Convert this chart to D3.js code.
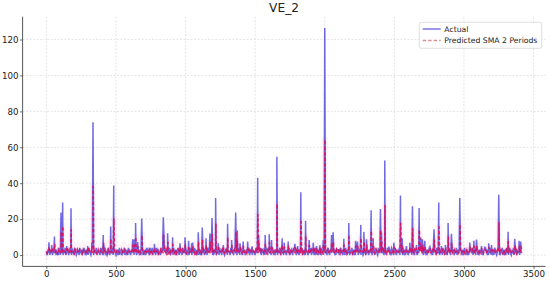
<!DOCTYPE html>
<html><head><meta charset="utf-8">
<script src="https://cdn.jsdelivr.net/npm/d3@7"></script>
<style>body{margin:0;background:#fff}svg{display:block;font-family:"DejaVu Sans",sans-serif}</style>
</head><body><svg id="c" width="550" height="281"></svg>
<script>
// ---- data ----
const title = "VE_2";
const seriesNames = ["Actual", "Predicted SMA 2 Periods"];
const xTicks = [0, 500, 1000, 1500, 2000, 2500, 3000, 3500];
const yTicks = [0, 20, 40, 60, 80, 100, 120];
const baseStep = 5; // baseline values every 5 observations
const actualBase =
 "20314021302413021042031203140213024102310420132041"+
 "30214203120431024103214032104213024310241032140231"+
 "02130421031240213042103124032104213021403120423104"+
 "21403120413021042310241302140321042130241032104231"+
 "40213024103214021304213021403120431024103124021304"+
 "12043102140321042130241302140231042103241302140321"+
 "04213024103214023104213024103124021430213042103214"+
 "02310421302410321402130421031240213042103124032104"+
 "21302410321402130421302413021042031203140213024102"+
 "31042013204130214203120431024103214032104213024310"+
 "24103214023102130421031240213042103124032104213021"+
 "40312042310421403120413021042310241302140321042130"+
 "24103210423140213024103214021304213021403120431024"+
 "1031240213041204310214031203210421";
const predBase =
 "21223122132231221322123122321223122312221322312232"+
 "22132212312322123122321223122321223122132231221322"+
 "12322122312213221232212231221322312213221232212231"+
 "23122321223122312213221322123123221231223212231223"+
 "21223122132231221322123122321223122312221322312232"+
 "22132212312322123122321223122321223122132231221322"+
 "12322122312213221232212231221322312213221232212231"+
 "23122321223122312213221322123123221231223212231223"+
 "21223122132231221322123122321223122312221322312232"+
 "22132212312322123122321223122321223122132231221322"+
 "12322122312213221232212231221322312213221232212231"+
 "23122321223122312213221322123123221231223212231223"+
 "21223122132231221322123122321223122312221322312232"+
 "2213221231232212312232122312232122";
const spikeIdx = [19,39,58,105,117,146,177,297,326,335,409,462,484,620,632,641,656,685,776,840,845,871,907,960,996,1022,1044,1051,1091,1120,1147,1175,1190,1216,1235,1271,1302,1331,1360,1371,1391,1414,1446,1479,1518,1525,1546,1572,1601,1618,1656,1694,1709,1737,1785,1805,1828,1862,1888,1917,1941,1965,1989,2000,2049,2060,2097,2137,2173,2221,2235,2259,2281,2300,2333,2348,2400,2408,2431,2460,2496,2544,2556,2587,2611,2630,2659,2678,2690,2702,2719,2755,2785,2819,2838,2867,2886,2910,2970,3042,3071,3090,3126,3150,3178,3198,3250,3317,3365,3396,3408];
const spikeVal = [7.1,5.6,10.3,23.7,29.3,5,26,5,7,74,11.2,15.9,38.7,8.8,8.8,17.8,7.3,20.4,6.2,21.1,10.3,12.1,9.9,6.5,9.9,8,6.5,7,12.7,15.3,9.3,12,20.6,31.8,6.5,5.6,17.4,8.4,23.7,13.6,6.5,7.5,7.5,4.7,43,10.7,3.7,11.2,11.6,8.4,54.8,9.3,6.9,7.5,6.2,5,35,19.1,8.4,6.9,5,5.4,8.4,126.4,11.2,12.7,3,9,17.8,8,7.5,16.8,12.9,8.8,24.9,9.3,25.6,12.5,52.7,4.7,6.9,33.1,9.3,5,6.9,27.1,5.6,26.2,9.7,8.8,8,4.7,14.4,29.3,5,5.6,17.8,11.8,31.8,6.9,7.9,8.6,5,4.3,6.5,5.6,33.6,12.9,9,7.9,7.5];
const predSpikeVal = [4.5,3.8,6,13,16,3.5,14,3.5,4.5,38,6.5,9,20,5.4,5.4,10,4.6,11,4,11.5,6,7,5.9,4.2,5.9,5,4.2,4.5,7.3,8.6,5.6,7,11.3,17,4.2,3.8,9.7,5.2,13,7.8,4.2,4.7,4.7,3.3,22.5,6.3,2.8,6.6,6.8,5.2,28.4,5.6,4.4,4.7,4.1,3.5,18.5,10.5,5.2,4.4,3.5,3.7,5.2,64,6.6,7.3,2.5,5.5,9.9,5,4.7,9.4,7.4,5.4,13.4,5.6,13.8,7.2,27.3,3.3,4.4,17.5,5.6,3.5,4.4,14.5,3.8,14.1,5.8,5.4,5,3.3,8.2,15.6,3.5,3.8,9.9,6.9,16.9,4.4,4.9,5.3,3.5,3.1,4.2,3.8,17.8,7.4,5.5,4.9,4.7];

// ---- assemble points ----
function build(base, sIdx, sVal, offsets) {
  const m = new Map();
  for (let i = 0; i < base.length; i++) m.set(i * baseStep, +base[i]);
  sIdx.forEach((ix, k) => offsets.forEach(o => m.set(ix + o, sVal[k])));
  return Array.from(m, ([x, y]) => ({x, y})).sort((a, b) => a.x - b.x);
}
const actual = build(actualBase, spikeIdx, spikeVal, [0]);
const pred = build(predBase, spikeIdx, predSpikeVal, [1, 2]);

// ---- layout ----
const svg = d3.select("#c");
const L = 22.6, R = 545.5, T = 16.7, B = 266.4;
const xMax = d3.max(actual, d => d.x), yMax = d3.max(actual, d => d.y);
const x = d3.scaleLinear().domain([-0.05 * xMax, xMax * 1.05]).range([L, R]);
const y = d3.scaleLinear().domain([-0.05 * yMax, yMax * 1.05]).range([B, T]);

// grid
const g = svg.append("g");
g.selectAll(".gx").data(xTicks).join("line")
  .attr("x1", d => x(d)).attr("x2", d => x(d)).attr("y1", T).attr("y2", B)
  .attr("stroke", "#d4d4d4").attr("stroke-width", 0.6).attr("stroke-dasharray", "2,1.5");
g.selectAll(".gy").data(yTicks).join("line")
  .attr("x1", L).attr("x2", R).attr("y1", d => y(d)).attr("y2", d => y(d))
  .attr("stroke", "#d4d4d4").attr("stroke-width", 0.6).attr("stroke-dasharray", "2,1.5");

// axes
const xa = svg.append("g").attr("transform", `translate(0,${B})`)
  .call(d3.axisBottom(x).tickValues(xTicks).tickSize(2.5).tickPadding(2).tickFormat(d3.format("d")));
const ya = svg.append("g").attr("transform", `translate(${L},0)`)
  .call(d3.axisLeft(y).tickValues(yTicks).tickSize(2.5).tickPadding(1.5).tickFormat(d3.format("d")));
[xa, ya].forEach(a => {
  a.select(".domain").remove();
  a.selectAll("line").attr("stroke", "#444").attr("stroke-width", 0.8);
  a.selectAll("text").attr("font-size", 8.7).attr("fill", "#222").attr("font-family", "DejaVu Sans");
});
svg.append("line").attr("x1", L).attr("x2", L).attr("y1", T).attr("y2", B).attr("stroke", "#444").attr("stroke-width", 0.9);
svg.append("line").attr("x1", L).attr("x2", R).attr("y1", B).attr("y2", B).attr("stroke", "#444").attr("stroke-width", 0.9);

// lines
const line = d3.line().x(d => x(d.x)).y(d => y(d.y));
// faint pink halo of the prediction (soft blur seen in the reference)
svg.append("path").datum(pred).attr("d", line).attr("fill", "none")
  .attr("stroke", "#ff3399").attr("stroke-opacity", 0.06).attr("stroke-width", 6);
svg.append("path").datum(actual).attr("d", line).attr("fill", "none")
  .attr("stroke", "#1a10d0").attr("stroke-opacity", 0.62).attr("stroke-width", 1.5);
svg.append("path").datum(pred).attr("d", line).attr("fill", "none")
  .attr("stroke", "#e8004a").attr("stroke-opacity", 0.78).attr("stroke-width", 1.5)
  .attr("stroke-dasharray", "3.3,2.2");

// title
svg.append("text").attr("x", (L + R) / 2).attr("y", 12.4).attr("text-anchor", "middle")
  .attr("font-size", 12.2).attr("fill", "#222").text(title);

// legend
const lg = svg.append("g");
lg.append("rect").attr("x", 419.3).attr("y", 22.3).attr("width", 122.4).attr("height", 26)
  .attr("rx", 2).attr("fill", "white").attr("fill-opacity", 0.85).attr("stroke", "#d0d0d0").attr("stroke-width", 0.7);
const styles = [{c: "#1a10d0", o: 0.62, dash: null}, {c: "#c04040", o: 0.6, dash: "3.3,2.2"}];
seriesNames.forEach((n, i) => {
  const yy = 29 + i * 11.5;
  lg.append("line").attr("x1", 422.7).attr("x2", 440.7).attr("y1", yy).attr("y2", yy)
    .attr("stroke", styles[i].c).attr("stroke-opacity", styles[i].o).attr("stroke-width", 1.4)
    .attr("stroke-dasharray", styles[i].dash);
  lg.append("text").attr("x", 444.3).attr("y", yy + 2.8).attr("font-size", 7.7).attr("fill", "#222").text(n);
});
</script></body></html>
